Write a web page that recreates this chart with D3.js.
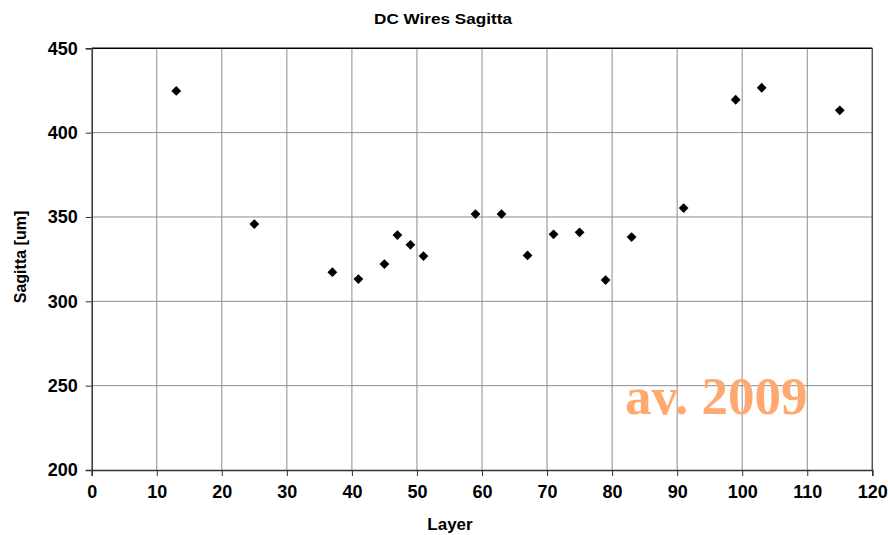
<!DOCTYPE html>
<html>
<head>
<meta charset="utf-8">
<script src="https://cdn.jsdelivr.net/npm/d3@7"></script>
<style>
  body { margin: 0; background: #fff; }
  text { font-family: Arial, "Liberation Sans", sans-serif; }
</style>
</head>
<body>
<svg id="chart"></svg>
<script>
var layers = [13, 25, 37, 41, 45, 47, 49, 51, 59, 63, 67, 71, 75, 79, 83, 91, 99, 103, 115];
var sagitta = [424.7, 345.8, 317.3, 313.2, 322.1, 339.3, 333.5, 326.8, 351.7, 351.7, 327.2, 339.7, 340.9, 312.6, 338.1, 355.3, 419.5, 426.6, 413.2];
var xTicks = [0, 10, 20, 30, 40, 50, 60, 70, 80, 90, 100, 110, 120];
var yTicks = [200, 250, 300, 350, 400, 450];

var width = 888;
var height = 535;
var margin = {left: 91.7, right: 888 - 872.3, top: 48.3, bottom: 535 - 470};

var svg = d3.select("#chart").attr("width", width).attr("height", height);

var x = d3.scaleLinear().domain([0, 120]).range([margin.left, width - margin.right]);
var y = d3.scaleLinear().domain([200, 450]).range([height - margin.bottom, margin.top]);

// grid
svg.append("g").selectAll("line")
  .data(xTicks.filter(function (d) { return d > 0 && d < 120; }))
  .enter().append("line")
  .attr("x1", function (d) { return x(d); })
  .attr("x2", function (d) { return x(d); })
  .attr("y1", y(200)).attr("y2", y(450))
  .attr("stroke", "#8c8c8c").attr("stroke-width", 1);

svg.append("g").selectAll("line")
  .data(yTicks.filter(function (d) { return d > 200 && d < 450; }))
  .enter().append("line")
  .attr("x1", x(0)).attr("x2", x(120))
  .attr("y1", function (d) { return y(d); })
  .attr("y2", function (d) { return y(d); })
  .attr("stroke", "#8c8c8c").attr("stroke-width", 1);

// frame
svg.append("line").attr("x1", x(0)).attr("x2", x(120)).attr("y1", y(450)).attr("y2", y(450))
  .attr("stroke", "#000").attr("stroke-width", 1.5);
svg.append("line").attr("x1", x(120)).attr("x2", x(120)).attr("y1", y(450)).attr("y2", y(200))
  .attr("stroke", "#555").attr("stroke-width", 1.5);

// axes
var xAxis = d3.axisBottom(x).tickValues(xTicks).tickSize(6).tickPadding(9);
var yAxis = d3.axisLeft(y).tickValues(yTicks).tickSize(6).tickPadding(8);

var gx = svg.append("g").attr("transform", "translate(0," + y(200) + ")").call(xAxis);
var gy = svg.append("g").attr("transform", "translate(" + x(0) + ",0)").call(yAxis);

[gx, gy].forEach(function (g) {
  g.select(".domain").attr("stroke", "#333").attr("stroke-width", 1.5);
  g.selectAll(".tick line").attr("stroke", "#333");
  g.selectAll(".tick text")
    .style("font-family", "Arial")
    .style("font-size", "18px")
    .style("font-weight", "bold")
    .attr("fill", "#000");
});

// markers
svg.append("g").selectAll("path")
  .data(layers)
  .enter().append("path")
  .attr("d", d3.symbol().type(d3.symbolSquare).size(48))
  .attr("transform", function (d, i) {
    return "translate(" + x(d) + "," + y(sagitta[i]) + ") rotate(45)";
  })
  .attr("fill", "#000");

// titles
svg.append("text")
  .attr("x", 443).attr("y", 24)
  .attr("text-anchor", "middle")
  .attr("textLength", 138).attr("lengthAdjust", "spacingAndGlyphs")
  .style("font-size", "14px").style("font-weight", "bold")
  .text("DC Wires Sagitta");

svg.append("text")
  .attr("x", 450).attr("y", 530)
  .attr("text-anchor", "middle")
  .style("font-size", "17px").style("font-weight", "bold")
  .text("Layer");

svg.append("text")
  .attr("transform", "translate(26,257) rotate(-90)")
  .attr("text-anchor", "middle")
  .style("font-size", "16px").style("font-weight", "bold")
  .text("Sagitta [um]");

svg.append("text")
  .attr("x", 625).attr("y", 414)
  .style("font-family", "'Liberation Serif', 'Times New Roman', serif")
  .style("font-size", "53px").style("font-weight", "bold")
  .attr("fill", "#ffa870")
  .text("av. 2009");
</script>
</body>
</html>
